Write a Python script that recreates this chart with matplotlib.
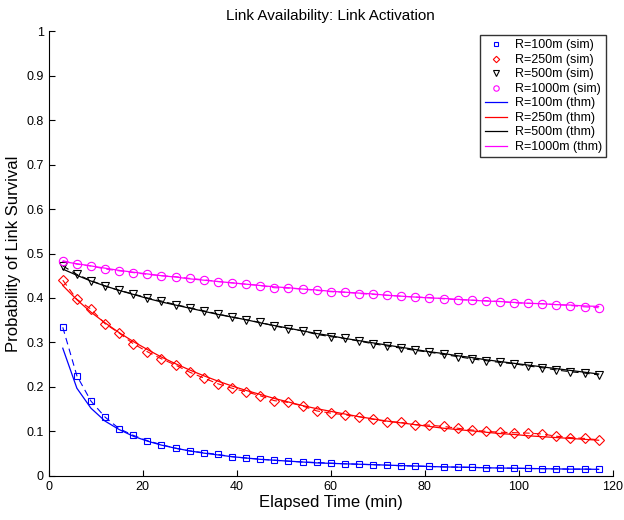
import numpy as np
import matplotlib.pyplot as plt

plt.rcParams['font.family'] = ['Liberation Sans', 'DejaVu Sans']

# elapsed time samples (min)
t = [3, 6, 9, 12, 15, 18, 21, 24, 27, 30, 33, 36, 39, 42, 45, 48, 51, 54, 57, 60,
     63, 66, 69, 72, 75, 78, 81, 84, 87, 90, 93, 96, 99, 102, 105, 108, 111, 114, 117]

# simulated survival probability
sim_100 = [0.334, 0.225, 0.168, 0.132, 0.106, 0.091, 0.079, 0.070, 0.062, 0.056,
           0.052, 0.048, 0.043, 0.040, 0.0375, 0.035, 0.033, 0.031, 0.030, 0.0285,
           0.027, 0.026, 0.025, 0.024, 0.0225, 0.022, 0.021, 0.020, 0.0195, 0.019,
           0.018, 0.0175, 0.017, 0.0165, 0.016, 0.0155, 0.015, 0.015, 0.0145]
sim_250 = [0.440, 0.397, 0.375, 0.342, 0.321, 0.297, 0.279, 0.263, 0.249, 0.233,
           0.220, 0.207, 0.197, 0.189, 0.180, 0.169, 0.165, 0.157, 0.146, 0.141,
           0.137, 0.133, 0.127, 0.122, 0.120, 0.115, 0.114, 0.111, 0.107, 0.103,
           0.100, 0.098, 0.097, 0.096, 0.094, 0.089, 0.086, 0.084, 0.081]
sim_500 = [0.472, 0.453, 0.439, 0.427, 0.417, 0.409, 0.400, 0.393, 0.385, 0.378,
           0.371, 0.364, 0.357, 0.351, 0.345, 0.337, 0.331, 0.326, 0.318, 0.313,
           0.309, 0.303, 0.297, 0.292, 0.287, 0.282, 0.278, 0.273, 0.268, 0.263,
           0.259, 0.255, 0.252, 0.247, 0.243, 0.238, 0.234, 0.231, 0.227]
sim_1000 = [0.484, 0.476, 0.472, 0.465, 0.461, 0.457, 0.453, 0.450, 0.448, 0.444,
            0.441, 0.437, 0.434, 0.431, 0.428, 0.423, 0.422, 0.420, 0.417, 0.414,
            0.413, 0.410, 0.408, 0.406, 0.404, 0.402, 0.401, 0.398, 0.396, 0.395,
            0.394, 0.392, 0.389, 0.388, 0.387, 0.385, 0.383, 0.380, 0.378]

# theoretical survival probability
thm_100 = [0.287, 0.197, 0.152, 0.123, 0.104, 0.089, 0.078, 0.069, 0.062, 0.056,
           0.051, 0.047, 0.043, 0.040, 0.037, 0.035, 0.033, 0.031, 0.029, 0.028,
           0.027, 0.026, 0.025, 0.024, 0.023, 0.022, 0.021, 0.020, 0.0195, 0.019,
           0.018, 0.0175, 0.017, 0.0165, 0.016, 0.0155, 0.015, 0.015, 0.0145]
thm_250 = [0.428, 0.396, 0.368, 0.344, 0.322, 0.302, 0.284, 0.267, 0.252, 0.238,
           0.225, 0.213, 0.202, 0.192, 0.183, 0.174, 0.166, 0.158, 0.151, 0.145,
           0.139, 0.133, 0.128, 0.123, 0.119, 0.115, 0.111, 0.107, 0.104, 0.101,
           0.098, 0.095, 0.093, 0.090, 0.088, 0.086, 0.084, 0.082, 0.080]
thm_500 = [0.465, 0.451, 0.438, 0.427, 0.417, 0.408, 0.399, 0.391, 0.384, 0.377,
           0.370, 0.363, 0.357, 0.351, 0.344, 0.338, 0.332, 0.326, 0.320, 0.315,
           0.309, 0.304, 0.299, 0.294, 0.289, 0.284, 0.279, 0.275, 0.270, 0.266,
           0.261, 0.257, 0.253, 0.249, 0.245, 0.241, 0.237, 0.233, 0.229]
thm_1000 = [0.482, 0.477, 0.472, 0.467, 0.462, 0.458, 0.454, 0.450, 0.447, 0.443,
            0.440, 0.437, 0.434, 0.431, 0.428, 0.425, 0.423, 0.420, 0.418, 0.415,
            0.413, 0.411, 0.409, 0.406, 0.404, 0.402, 0.400, 0.399, 0.397, 0.395,
            0.393, 0.392, 0.390, 0.388, 0.387, 0.385, 0.384, 0.382, 0.381]

ranges = ['100m', '250m', '500m', '1000m']
colors = ['#0000ff', '#ff0000', '#000000', '#ff00ff']
markers = ['s', 'D', 'v', 'o']
msizes = [5, 5, 6, 6]
sims = [sim_100, sim_250, sim_500, sim_1000]
thms = [thm_100, thm_250, thm_500, thm_1000]


def plot_survival():
    fig = plt.figure(figsize=(6.24, 5.2), dpi=100)
    ax = fig.add_axes([0.078, 0.085, 0.904, 0.855])

    # dashed trace through the simulation points
    for sim, c in zip(sims, colors):
        ax.plot(t, sim, color=c, linewidth=0.8, linestyle=(0, (6, 4)))

    for r, sim, c, m, ms in zip(ranges, sims, colors, markers, msizes):
        ax.plot(t, sim, linestyle='none', marker=m, markersize=ms,
                markerfacecolor='none', markeredgecolor=c, markeredgewidth=0.8,
                label='R=%s (sim)' % r)
    for r, thm, c in zip(ranges, thms, colors):
        ax.plot(t, thm, '-', color=c, linewidth=0.9, label='R=%s (thm)' % r)

    ax.set_xlim(0, 120)
    ax.set_ylim(0, 1)
    ax.set_xticks(np.arange(0, 121, 20))
    ax.set_yticks(np.arange(0, 1.01, 0.1))
    ax.set_yticklabels(['0', '0.1', '0.2', '0.3', '0.4', '0.5', '0.6', '0.7', '0.8', '0.9', '1'])
    ax.tick_params(direction='in', length=4, width=0.8, labelsize=9)
    ax.spines['top'].set_visible(False)
    ax.spines['right'].set_visible(False)

    ax.set_xlabel('Elapsed Time (min)', fontsize=12, labelpad=2)
    ax.set_ylabel('Probability of Link Survival', fontsize=12, labelpad=4)
    ax.set_title('Link Availability: Link Activation', fontsize=11, pad=8)

    leg = ax.legend(loc='upper right', bbox_to_anchor=(0.993, 0.997), fontsize=9,
                    frameon=True, fancybox=False, borderpad=0.35, labelspacing=0.2,
                    handlelength=1.8, handletextpad=0.6, markerscale=0.65,
                    borderaxespad=0.2)
    leg.get_frame().set_edgecolor('black')
    leg.get_frame().set_linewidth(1.0)

    fig.savefig('out.png', dpi=100)


if __name__ == "__main__":
    plot_survival()
